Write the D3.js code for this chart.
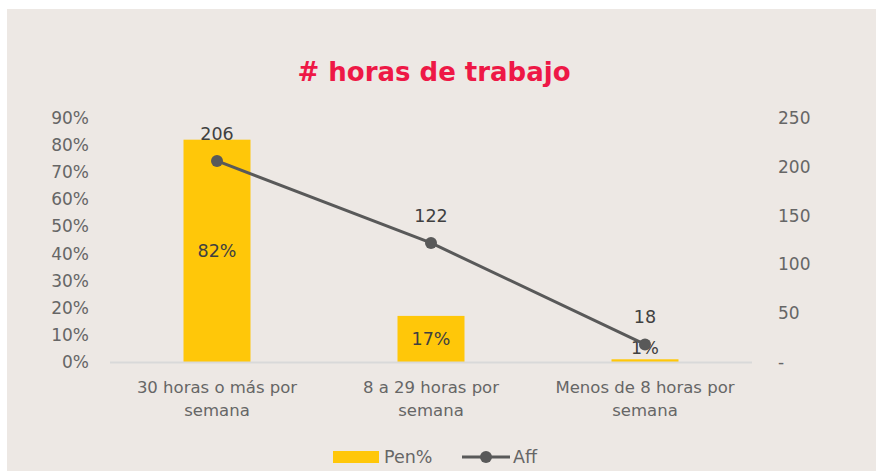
<!DOCTYPE html>
<html>
<head>
<meta charset="utf-8">
<script src="https://cdn.jsdelivr.net/npm/d3@7"></script>
<style>
  body { margin: 0; background: #ffffff; }
  svg { display: block; font-family: "DejaVu Sans", sans-serif; }
</style>
</head>
<body>
<div id="chart"></div>
<script>
// data
const categories = [["30 horas o más por", "semana"], ["8 a 29 horas por", "semana"], ["Menos de 8 horas por", "semana"]];
const penValues = [0.82, 0.17, 0.01];
const affValues = [206, 122, 18];
const leftTicks = [0, 0.1, 0.2, 0.3, 0.4, 0.5, 0.6, 0.7, 0.8, 0.9];
const rightTicks = [0, 50, 100, 150, 200, 250];

var FONT = "DejaVu Sans, sans-serif";
var W = 878, H = 471;
var margin = {top: 118, right: 126, bottom: 109, left: 110},
    width = W - margin.left - margin.right,
    height = H - margin.top - margin.bottom;

var svg = d3.select("#chart")
  .append("svg")
    .attr("width", W)
    .attr("height", H);

// panel background
svg.append("rect")
  .attr("x", 7).attr("y", 9)
  .attr("width", 869).attr("height", H - 9)
  .attr("fill", "#ede8e4");

// title
svg.append("text")
  .attr("x", 434).attr("y", 81)
  .attr("text-anchor", "middle")
  .attr("font-size", 26)
  .attr("font-weight", "bold")
  .attr("fill", "#ee1846")
  .text("# horas de trabajo");

var g = svg.append("g")
  .attr("transform", "translate(" + margin.left + "," + margin.top + ")");

var x = d3.scaleBand()
  .domain(d3.range(categories.length))
  .range([0, width])
  .paddingInner(0.687)
  .paddingOuter(0.3435);

var y = d3.scaleLinear().domain([0, 0.9]).range([height, 0]);
var y2 = d3.scaleLinear().domain([0, 250]).range([height, 0]);

// left axis
var yAxisG = g.append("g")
  .attr("transform", "translate(-18,0)")
  .call(d3.axisLeft(y).tickValues(leftTicks).tickSize(0).tickFormat(d3.format(".0%")));
yAxisG.select(".domain").remove();
yAxisG.selectAll("text")
  .attr("font-size", 17).attr("fill", "#666666").attr("font-family", FONT);

// right axis
var y2AxisG = g.append("g")
  .attr("transform", "translate(" + (width + 23) + ",0)")
  .call(d3.axisRight(y2).tickValues(rightTicks).tickSize(0)
    .tickFormat(d => d === 0 ? "-" : d));
y2AxisG.select(".domain").remove();
y2AxisG.selectAll("text")
  .attr("font-size", 17).attr("fill", "#666666").attr("font-family", FONT);

// bars
g.append("g")
  .selectAll("rect")
  .data(penValues)
  .enter()
  .append("rect")
    .attr("x", (d, i) => x(i))
    .attr("y", d => y(d))
    .attr("width", x.bandwidth())
    .attr("height", d => height - y(d))
    .attr("fill", "#ffc709");

// baseline
g.append("line")
  .attr("x1", 0).attr("x2", width)
  .attr("y1", height + 0.5).attr("y2", height + 0.5)
  .attr("stroke", "#d9d9d9").attr("stroke-width", 2);

// category labels
var xAxisG = g.append("g")
  .attr("transform", "translate(0," + height + ")")
  .call(d3.axisBottom(x).tickSize(0).tickFormat(""));
xAxisG.select(".domain").remove();
xAxisG.selectAll(".tick").each(function(d) {
  var t = d3.select(this).append("text")
    .attr("text-anchor", "middle")
    .attr("font-size", 16.5)
    .attr("font-family", FONT)
    .attr("fill", "#666666");
  categories[d].forEach(function(line, k) {
    t.append("tspan").attr("x", 0).attr("y", 31 + k * 23).text(line);
  });
});

// bar value labels
g.append("g")
  .selectAll("text")
  .data(penValues)
  .enter()
  .append("text")
    .attr("x", (d, i) => x(i) + x.bandwidth() / 2)
    .attr("y", d => Math.min((y(d) + height) / 2, height - 14) + 6)
    .attr("text-anchor", "middle")
    .attr("font-size", 17.5)
    .attr("fill", "#404040")
    .text(d => d3.format(".0%")(d));

// line
var line = d3.line()
  .x((d, i) => x(i) + x.bandwidth() / 2)
  .y(d => y2(d));

g.append("path")
  .datum(affValues)
  .attr("d", line)
  .attr("fill", "none")
  .attr("stroke", "#595959")
  .attr("stroke-width", 3);

g.append("g")
  .selectAll("circle")
  .data(affValues)
  .enter()
  .append("circle")
    .attr("cx", (d, i) => x(i) + x.bandwidth() / 2)
    .attr("cy", d => y2(d))
    .attr("r", 6)
    .attr("fill", "#595959");

g.append("g")
  .selectAll("text")
  .data(affValues)
  .enter()
  .append("text")
    .attr("x", (d, i) => x(i) + x.bandwidth() / 2)
    .attr("y", d => y2(d) - 21)
    .attr("text-anchor", "middle")
    .attr("font-size", 17.5)
    .attr("fill", "#404040")
    .text(d => d);

// legend
var legend = svg.append("g").attr("transform", "translate(333,457)");
legend.append("rect")
  .attr("x", 0).attr("y", -6).attr("width", 46).attr("height", 12)
  .attr("fill", "#ffc709");
legend.append("text")
  .attr("x", 51).attr("y", 6)
  .attr("font-size", 17.5).attr("fill", "#666666")
  .text("Pen%");
legend.append("line")
  .attr("x1", 129).attr("x2", 177).attr("y1", 0).attr("y2", 0)
  .attr("stroke", "#595959").attr("stroke-width", 3);
legend.append("circle")
  .attr("cx", 153).attr("cy", 0).attr("r", 6).attr("fill", "#595959");
legend.append("text")
  .attr("x", 180).attr("y", 6)
  .attr("font-size", 17.5).attr("fill", "#666666")
  .text("Aff");
</script>
</body>
</html>
